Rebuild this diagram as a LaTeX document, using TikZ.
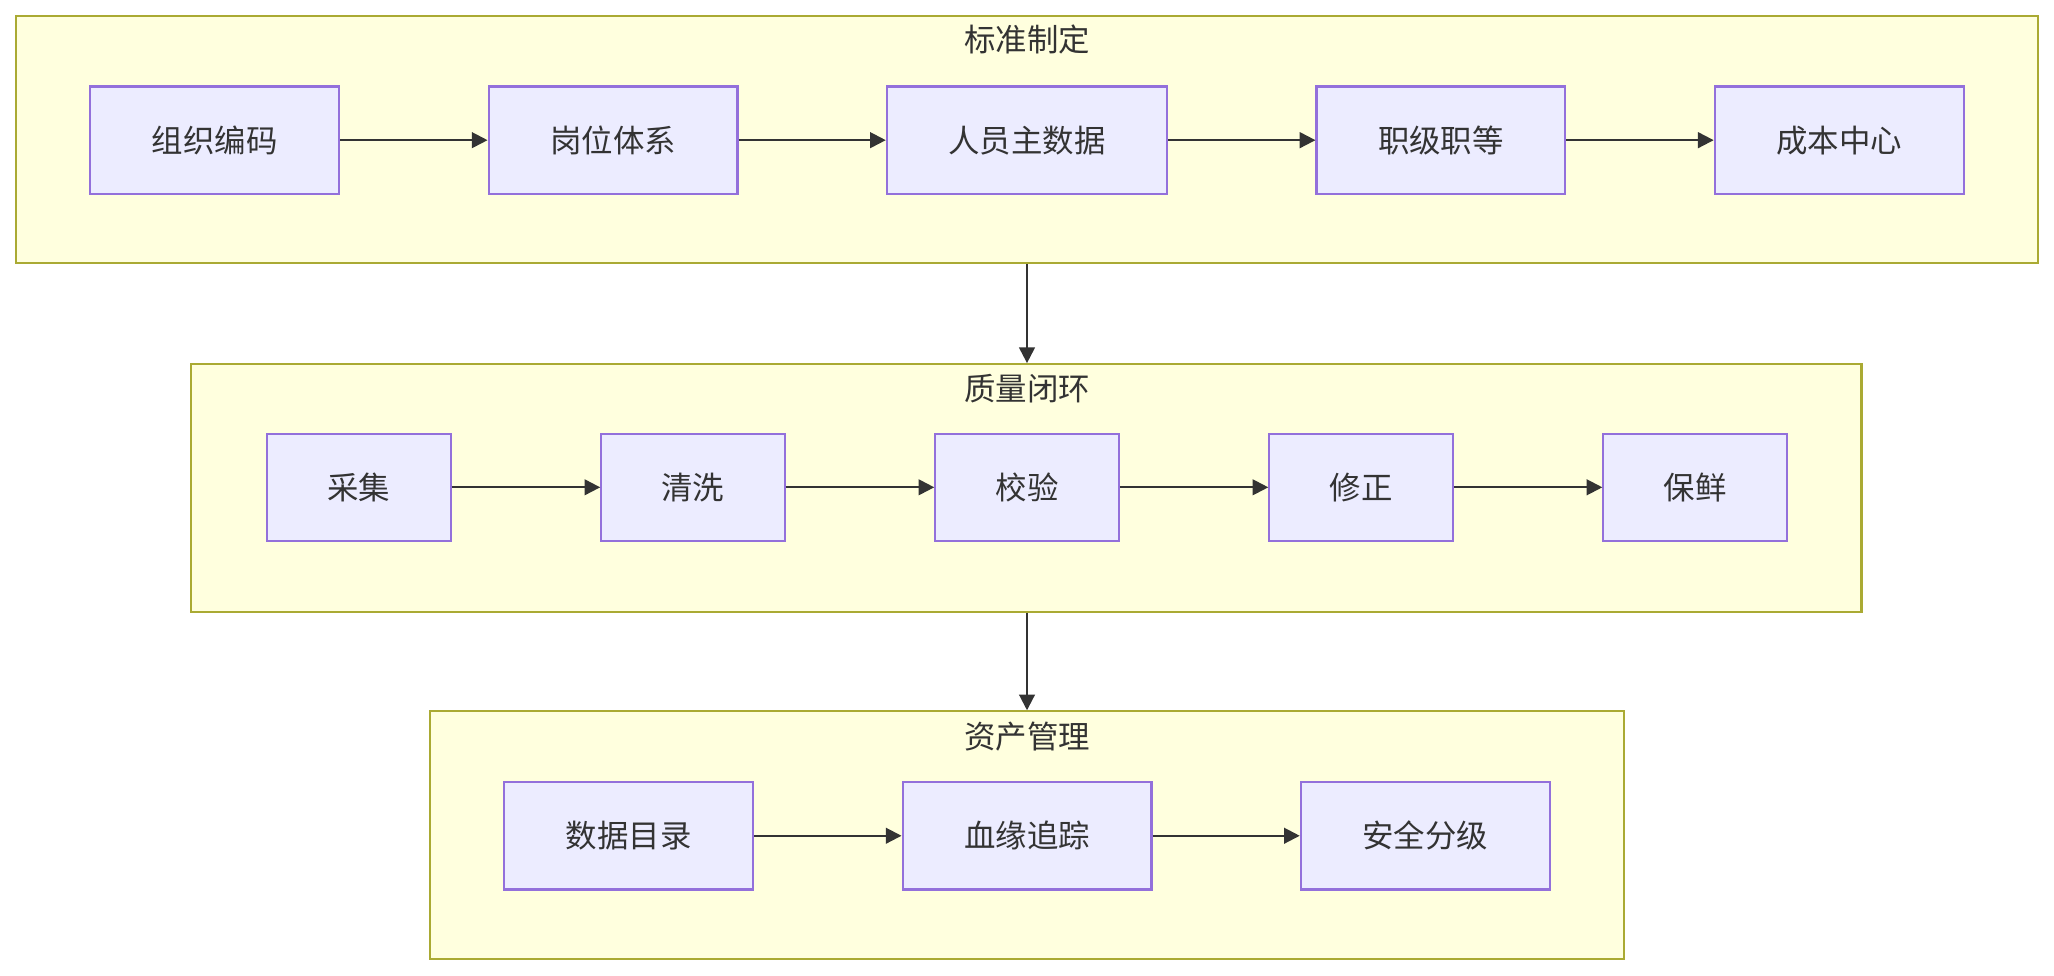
\documentclass[tikz,border=0pt]{standalone}
\usepackage{fontspec}
\setmainfont{Noto Sans CJK SC}
\usetikzlibrary{arrows.meta,positioning}
\definecolor{clusterfill}{HTML}{FFFFDE}
\definecolor{clusterline}{HTML}{AAAA33}
\definecolor{boxfill}{HTML}{ECECFF}
\definecolor{boxline}{HTML}{9370DB}
\definecolor{inkgray}{HTML}{333333}
\tikzset{
	cluster/.style={draw=clusterline,fill=clusterfill,line width=0.8pt,inner sep=0pt},
	clustertitle/.style={text=inkgray,font=\fontsize{12}{14}\selectfont},
	stagebox/.style={draw=boxline,fill=boxfill,line width=0.8pt,minimum height=41pt,
		text=inkgray,font=\fontsize{12}{14}\selectfont},
	flow/.style={draw=inkgray,line width=0.8pt,-{Triangle[length=6pt,width=6pt]}},
}
\begin{document}
\begin{tikzpicture}[x=0.5pt,y=-0.5pt]
				 %\draw[color=gray,step=10, help lines,opacity=0.3] (0,0) grid (1568,745); %help grids
				 \useasboundingbox (0,0) rectangle (1568,745);
				 % the three clusters
				 \node[cluster,minimum width=772pt,minimum height=94.5pt] (std) at (784,106.5) {};
				 \node[cluster,minimum width=637.5pt,minimum height=94.5pt] (qual) at (783.5,372.5) {};
				 \node[cluster,minimum width=456pt,minimum height=94.5pt] (asset) at (784,637.5) {};
				 \node[clustertitle] (stdtitle) at (784,30) {标准制定};
				 \node[clustertitle] (qualtitle) at (784,297) {质量闭环};
				 \node[clustertitle] (assettitle) at (784,562) {资产管理};
				 % first row
				 \node[stagebox,minimum width=95pt] (org) at (164,107) {组织编码};
				 \node[stagebox,minimum width=95pt] (post) at (468,107) {岗位体系};
				 \node[stagebox,minimum width=107pt] (person) at (784,107) {人员主数据};
				 \node[stagebox,minimum width=95pt] (rank) at (1100,107) {职级职等};
				 \node[stagebox,minimum width=95pt] (cost) at (1404,107) {成本中心};
				 \draw[flow] (org)--(post);
				 \draw[flow] (post)--(person);
				 \draw[flow] (person)--(rank);
				 \draw[flow] (rank)--(cost);
				 % second row
				 \node[stagebox,minimum width=70pt] (collect) at (274,372) {采集};
				 \node[stagebox,minimum width=70pt] (clean) at (529,372) {清洗};
				 \node[stagebox,minimum width=70pt] (check) at (784,372) {校验};
				 \node[stagebox,minimum width=70pt] (fix) at (1039,372) {修正};
				 \node[stagebox,minimum width=70pt] (fresh) at (1294,372) {保鲜};
				 \draw[flow] (collect)--(clean);
				 \draw[flow] (clean)--(check);
				 \draw[flow] (check)--(fix);
				 \draw[flow] (fix)--(fresh);
				 % third row
				 \node[stagebox,minimum width=95pt] (catalog) at (480,638) {数据目录};
				 \node[stagebox,minimum width=95pt] (lineage) at (784,638) {血缘追踪};
				 \node[stagebox,minimum width=95pt] (grade) at (1088,638) {安全分级};
				 \draw[flow] (catalog)--(lineage);
				 \draw[flow] (lineage)--(grade);
				 % between clusters
				 \draw[flow] (std.south)--(std.south |- qual.north);
				 \draw[flow] (qual.south -| std.south)--(std.south |- asset.north);
\end{tikzpicture}
\end{document}
